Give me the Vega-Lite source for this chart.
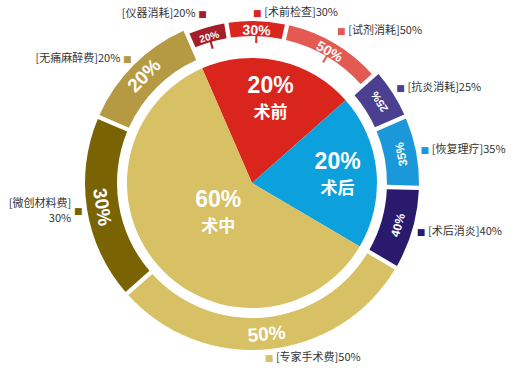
{
  "$schema": "https://vega.github.io/schema/vega-lite/v6.json",
  "width": 504,
  "height": 366,
  "autosize": {"type": "none"},
  "padding": {"left": 0, "top": 0, "right": 11, "bottom": 8},
  "background": "white",
  "view": {"stroke": null},
  "datasets": {
    "pie": [
      {"name": "术前", "value": 0.2, "o": 1},
      {"name": "术后", "value": 0.2, "o": 2},
      {"name": "术中", "value": 0.6, "o": 3}
    ],
    "ring": [
      {"item": "仪器消耗", "group": "术前", "pct": 0.2, "share": 0.04, "o": 1, "label": "[仪器消耗]20%"},
      {"item": "术前检查", "group": "术前", "pct": 0.3, "share": 0.06, "o": 2, "label": "[术前检查]30%"},
      {"item": "试剂消耗", "group": "术前", "pct": 0.5, "share": 0.10, "o": 3, "label": "[试剂消耗]50%"},
      {"item": "抗炎消耗", "group": "术后", "pct": 0.25, "share": 0.05, "o": 4, "label": "[抗炎消耗]25%"},
      {"item": "恢复理疗", "group": "术后", "pct": 0.35, "share": 0.07, "o": 5, "label": "[恢复理疗]35%"},
      {"item": "术后消炎", "group": "术后", "pct": 0.4, "share": 0.08, "o": 6, "label": "[术后消炎]40%"},
      {"item": "专家手术费", "group": "术中", "pct": 0.5, "share": 0.30, "o": 7, "label": "[专家手术费]50%"},
      {"item": "微创材料费", "group": "术中", "pct": 0.3, "share": 0.18, "o": 8, "label": "[微创材料费]\n30%"},
      {"item": "无痛麻醉费", "group": "术中", "pct": 0.2, "share": 0.12, "o": 9, "label": "[无痛麻醉费]20%"}
    ]
  },
  "resolve": {"scale": {"theta": "shared", "color": "shared"}},
  "layer": [
    {
      "data": {"name": "pie"},
      "mark": {"type": "arc", "outerRadius": 125},
      "encoding": {
        "theta": {"field": "value", "type": "quantitative", "stack": true, "scale": {"domain": [0, 1], "range": [-0.4102, 5.8730]}},
        "order": {"field": "o", "type": "quantitative"},
        "color": {"field": "name", "type": "nominal", "legend": null,
          "scale": {"domain": ["术前","术后","术中","仪器消耗","术前检查","试剂消耗","抗炎消耗","恢复理疗","术后消炎","专家手术费","微创材料费","无痛麻醉费"],
                    "range": ["#da251d","#0ca0dc","#d8c064","#a31f2a","#da261e","#e35a52","#4b3f8f","#1b98d9","#2a1a6e","#d8c064","#7a6303","#b59a43"]}}
      }
    },
    {
      "data": {"name": "ring"},
      "mark": {"type": "arc", "innerRadius": 135, "outerRadius": 167, "padAngle": 0.02},
      "encoding": {
        "theta": {"field": "share", "type": "quantitative", "stack": true},
        "order": {"field": "o", "type": "quantitative"},
        "color": {"field": "item", "type": "nominal", "legend": null},
        "fillOpacity": {"condition": {"test": "datum.o <= 3", "value": 0}, "value": 1}
      }
    },
    {
      "data": {"name": "ring"},
      "mark": {"type": "arc", "innerRadius": 147, "outerRadius": 162, "padAngle": 0.02},
      "encoding": {
        "theta": {"field": "share", "type": "quantitative", "stack": true},
        "order": {"field": "o", "type": "quantitative"},
        "color": {"field": "item", "type": "nominal", "legend": null},
        "fillOpacity": {"condition": {"test": "datum.o <= 3", "value": 1}, "value": 0}
      }
    },
    {
      "data": {"name": "ring"},
      "mark": {"type": "arc", "innerRadius": 140, "outerRadius": 148, "padAngle": 1.0, "filled": false, "strokeWidth": 2},
      "encoding": {
        "theta": {"field": "share", "type": "quantitative", "stack": true},
        "order": {"field": "o", "type": "quantitative"},
        "color": {"field": "item", "type": "nominal", "legend": null},
        "strokeOpacity": {"condition": {"test": "datum.o <= 3", "value": 1}, "value": 0}
      }
    },
    {
      "data": {"name": "ring"},
      "mark": {"type": "text", "radius": 152, "font": "Liberation Sans", "fontWeight": "bold", "fill": "white", "align": "center", "baseline": "middle"},
      "encoding": {
        "theta": {"field": "share", "type": "quantitative", "stack": true},
        "order": {"field": "o", "type": "quantitative"},
        "text": {"field": "pct", "type": "quantitative", "format": ".0%"},
        "angle": {"field": "o", "type": "quantitative", "scale": {"type": "linear", "domain": [1,2,3,4,5,6,7,8,9], "range": [-16,2,30,-122,-101,-74,-5,81,-45]}},
        "size": {"field": "o", "type": "quantitative", "legend": null, "scale": {"type": "linear", "domain": [1,2,3,4,5,6,7,8,9], "range": [10,14,14,11,12,12,19,19,19]}}
      }
    },
    {
      "data": {"name": "ring"},
      "mark": {"type": "text", "radius": 176, "font": "DejaVu Sans", "fontSize": 9, "align": "center", "baseline": "middle", "text": "■"},
      "encoding": {
        "theta": {"field": "share", "type": "quantitative", "stack": true},
        "order": {"field": "o", "type": "quantitative"},
        "color": {"field": "item", "type": "nominal", "legend": null},
        "opacity": {"condition": {"test": "datum.o == 2", "value": 0}, "value": 1}
      }
    },
    {
      "data": {"name": "ring"},
      "mark": {"type": "text", "radius": 176, "font": "DejaVu Sans", "fontSize": 9, "align": "center", "baseline": "middle", "text": "■", "dy": 6},
      "encoding": {
        "theta": {"field": "share", "type": "quantitative", "stack": true},
        "order": {"field": "o", "type": "quantitative"},
        "color": {"field": "item", "type": "nominal", "legend": null},
        "opacity": {"condition": {"test": "datum.o == 2", "value": 1}, "value": 0}
      }
    },
    {
      "data": {"name": "ring"},
      "mark": {"type": "text", "radius": 176, "font": "Noto Sans CJK SC", "fontSize": 11, "fill": "#333333", "align": "left", "baseline": "middle", "dx": 7},
      "encoding": {
        "theta": {"field": "share", "type": "quantitative", "stack": true},
        "order": {"field": "o", "type": "quantitative"},
        "text": {"condition": {"test": "datum.o >= 3 && datum.o <= 7", "field": "label"}, "value": ""}
      }
    },
    {
      "data": {"name": "ring"},
      "mark": {"type": "text", "radius": 176, "font": "Noto Sans CJK SC", "fontSize": 11, "fill": "#333333", "align": "left", "baseline": "middle", "dx": 7, "dy": 6},
      "encoding": {
        "theta": {"field": "share", "type": "quantitative", "stack": true},
        "order": {"field": "o", "type": "quantitative"},
        "text": {"condition": {"test": "datum.o == 2", "field": "label"}, "value": ""}
      }
    },
    {
      "data": {"name": "ring"},
      "mark": {"type": "text", "radius": 176, "font": "Noto Sans CJK SC", "fontSize": 11, "fill": "#333333", "align": "right", "baseline": "middle", "dx": -7},
      "encoding": {
        "theta": {"field": "share", "type": "quantitative", "stack": true},
        "order": {"field": "o", "type": "quantitative"},
        "text": {"condition": {"test": "datum.o == 1 || datum.o == 9", "field": "label"}, "value": ""}
      }
    },
    {
      "data": {"name": "ring"},
      "mark": {"type": "text", "radius": 176, "font": "Noto Sans CJK SC", "fontSize": 11, "fill": "#333333", "align": "right", "baseline": "middle", "dx": -7, "dy": -7, "lineBreak": "\n", "lineHeight": 15},
      "encoding": {
        "theta": {"field": "share", "type": "quantitative", "stack": true},
        "order": {"field": "o", "type": "quantitative"},
        "text": {"condition": {"test": "datum.o == 8", "field": "label"}, "value": ""}
      }
    },
    {
      "data": {"name": "pie"},
      "mark": {"type": "text", "radius": 86, "font": "Liberation Sans", "fontWeight": "bold", "fontSize": 23, "fill": "white", "align": "center", "baseline": "middle", "dy": -13},
      "encoding": {
        "theta": {"field": "value", "type": "quantitative", "stack": true},
        "order": {"field": "o", "type": "quantitative"},
        "text": {"condition": {"test": "datum.o <= 2", "field": "value", "type": "quantitative", "format": ".0%"}, "value": ""}
      }
    },
    {
      "data": {"name": "pie"},
      "mark": {"type": "text", "radius": 86, "font": "Noto Sans CJK SC", "fontWeight": "bold", "fontSize": 17, "fill": "white", "align": "center", "baseline": "middle", "dy": 14},
      "encoding": {
        "theta": {"field": "value", "type": "quantitative", "stack": true},
        "order": {"field": "o", "type": "quantitative"},
        "text": {"condition": {"test": "datum.o <= 2", "field": "name"}, "value": ""}
      }
    },
    {
      "data": {"name": "pie"},
      "mark": {"type": "text", "radius": 45, "font": "Liberation Sans", "fontWeight": "bold", "fontSize": 23, "fill": "white", "align": "center", "baseline": "middle", "dy": -13},
      "encoding": {
        "theta": {"field": "value", "type": "quantitative", "stack": true},
        "order": {"field": "o", "type": "quantitative"},
        "text": {"condition": {"test": "datum.o == 3", "field": "value", "type": "quantitative", "format": ".0%"}, "value": ""}
      }
    },
    {
      "data": {"name": "pie"},
      "mark": {"type": "text", "radius": 45, "font": "Noto Sans CJK SC", "fontWeight": "bold", "fontSize": 17, "fill": "white", "align": "center", "baseline": "middle", "dy": 14},
      "encoding": {
        "theta": {"field": "value", "type": "quantitative", "stack": true},
        "order": {"field": "o", "type": "quantitative"},
        "text": {"condition": {"test": "datum.o == 3", "field": "name"}, "value": ""}
      }
    }
  ]
}
